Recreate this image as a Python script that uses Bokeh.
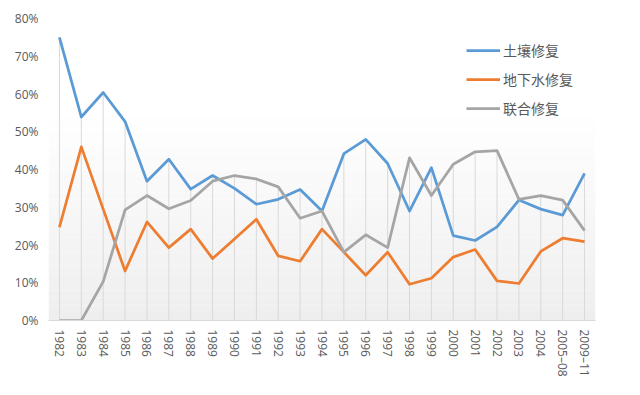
from bokeh.plotting import figure
from bokeh.models import Legend, LegendItem, BoxAnnotation, NumeralTickFormatter, FixedTicker
from bokeh.embed import file_html
from bokeh.resources import INLINE

categories = ["1982", "1983", "1984", "1985", "1986", "1987", "1988", "1989", "1990",
              "1991", "1992", "1993", "1994", "1995", "1996", "1997", "1998", "1999",
              "2000", "2001", "2002", "2003", "2004", "2005\u201308", "2009\u201311"]

soil = [75.0, 53.9, 60.4, 52.7, 36.9, 42.7, 34.8, 38.4, 35.0,
        30.8, 32.1, 34.7, 29.0, 44.2, 48.0, 41.6, 29.0, 40.5,
        22.5, 21.2, 24.8, 31.9, 29.5, 27.9, 39.0]
groundwater = [24.7, 46.0, 29.5, 13.1, 26.1, 19.3, 24.2, 16.4, 21.6,
               26.8, 17.1, 15.7, 24.2, 18.1, 12.0, 18.1, 9.6, 11.2,
               16.8, 18.8, 10.5, 9.8, 18.3, 21.8, 20.9]
combined = [0.0, 0.0, 10.3, 29.3, 33.1, 29.6, 31.8, 36.9, 38.4,
            37.5, 35.4, 27.1, 29.0, 18.1, 22.7, 19.3, 43.1, 33.1,
            41.4, 44.7, 45.0, 32.1, 33.1, 31.9, 23.8]

series_names = ["土壤修复", "地下水修复", "联合修复"]
series_colors = ["#5b9bd5", "#ed7d31", "#a5a5a5"]
y_ticks = [0, 0.1, 0.2, 0.3, 0.4, 0.5, 0.6, 0.7, 0.8]

W, H = 624, 379
p = figure(x_range=categories, y_range=(0, 0.8), width=W, height=H,
           output_backend="svg", toolbar_location=None,
           min_border_left=48, min_border_right=29,
           min_border_top=18, min_border_bottom=58)
p.background_fill_color = "#ffffff"
p.border_fill_color = "#ffffff"
p.outline_line_color = None
p.grid.visible = False

# subtle vertical gradient in the plot area (decoration)
nb = 40
for i in range(nb):
    y0 = 0.8 * i / nb
    y1 = 0.8 * (i + 1) / nb
    t = min(1.0, (y0 + y1) / 2 / 0.55)
    g = int(round(0xee + (0xff - 0xee) * t))
    col = "#%02x%02x%02x" % (g, g, g)
    p.add_layout(BoxAnnotation(bottom=y0, top=y1, fill_color=col, fill_alpha=1.0,
                               line_color=None, level="underlay"))

# drop lines from the highest series down to the axis
tops = [max(a, b, c) / 100 for a, b, c in zip(soil, groundwater, combined)]
p.segment(x0=categories, y0=[0] * len(categories), x1=categories, y1=tops,
          line_color="#d9d9d9", line_width=1)

renderers = []
for vals, col in zip([soil, groundwater, combined], series_colors):
    r = p.line(categories, [v / 100 for v in vals], line_color=col, line_width=2.75,
               line_join="round")
    renderers.append(r)

legend = Legend(items=[LegendItem(label=n, renderers=[r]) for n, r in zip(series_names, renderers)],
                location="top_right")
legend.background_fill_alpha = 0
legend.border_line_color = None
legend.margin = 22
legend.padding = 0
legend.spacing = 9
legend.label_height = 20
legend.glyph_height = 20
legend.glyph_width = 34
legend.label_standoff = 3
legend.label_text_font = "Noto Sans CJK SC"
legend.label_text_font_size = "14px"
legend.label_text_color = "#595959"
p.add_layout(legend)

p.yaxis.ticker = FixedTicker(ticks=y_ticks)
p.yaxis.formatter = NumeralTickFormatter(format="0%")
p.yaxis.axis_line_color = None
p.yaxis.major_tick_line_color = None
p.yaxis.major_tick_out = 0
p.yaxis.major_tick_in = 0
p.yaxis.minor_tick_line_color = None
p.yaxis.major_label_standoff = 10
p.yaxis.major_label_text_font = "Open Sans"
p.yaxis.major_label_text_font_size = "12px"
p.yaxis.major_label_text_color = "#595959"

p.xaxis.axis_line_color = "#d9d9d9"
p.xaxis.axis_line_width = 1
p.xaxis.major_tick_line_color = None
p.xaxis.major_tick_out = 0
p.xaxis.major_tick_in = 0
p.xaxis.minor_tick_line_color = None
p.xaxis.major_label_orientation = "vertical"
p.xaxis.major_label_standoff = 9
p.xaxis.major_label_text_font = "Open Sans"
p.xaxis.major_label_text_font_size = "12px"
p.xaxis.major_label_text_color = "#595959"

open("out.html", "w").write(file_html(p, INLINE))
